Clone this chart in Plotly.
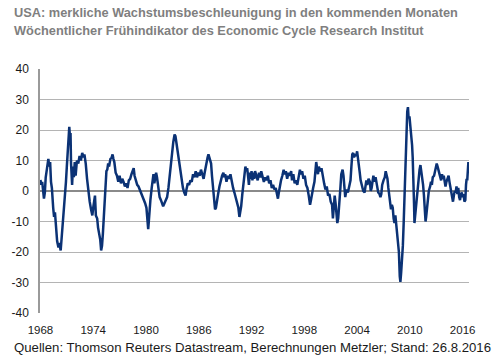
import plotly.graph_objects as go

# Decimal-year time points and indicator values (% growth rate)
years = [
    1968.00, 1968.10, 1968.20, 1968.30, 1968.40, 1968.50, 1968.60, 1968.75, 1968.90, 1969.00,
    1969.10, 1969.20, 1969.30, 1969.45, 1969.55, 1969.65, 1969.75, 1969.90, 1970.05, 1970.15,
    1970.30, 1970.40, 1970.55, 1970.65, 1970.80, 1970.90, 1971.00, 1971.10, 1971.20, 1971.28,
    1971.36, 1971.42, 1971.48, 1971.52, 1971.60, 1971.70, 1971.80, 1971.90, 1972.00, 1972.15,
    1972.30, 1972.45, 1972.60, 1972.75, 1972.90, 1973.00, 1973.15, 1973.30, 1973.45, 1973.60,
    1973.75, 1973.90, 1974.00, 1974.10, 1974.20, 1974.30, 1974.45, 1974.55, 1974.70, 1974.80,
    1974.90, 1975.00, 1975.10, 1975.20, 1975.30, 1975.40, 1975.50, 1975.60, 1975.70, 1975.80,
    1975.95, 1976.10, 1976.20, 1976.30, 1976.40, 1976.55, 1976.70, 1976.85, 1977.00, 1977.15,
    1977.30, 1977.45, 1977.60, 1977.75, 1977.90, 1978.05, 1978.20, 1978.35, 1978.50, 1978.60,
    1978.70, 1978.85, 1979.00, 1979.15, 1979.30, 1979.45, 1979.60, 1979.75, 1979.90, 1980.05,
    1980.15, 1980.25, 1980.32, 1980.40, 1980.50, 1980.65, 1980.75, 1980.85, 1980.95, 1981.05,
    1981.15, 1981.25, 1981.40, 1981.55, 1981.70, 1981.85, 1981.95, 1982.10, 1982.25, 1982.40,
    1982.55, 1982.65, 1982.80, 1982.95, 1983.10, 1983.25, 1983.35, 1983.45, 1983.60, 1983.75,
    1983.90, 1984.05, 1984.20, 1984.35, 1984.50, 1984.60, 1984.75, 1984.90, 1985.05, 1985.20,
    1985.35, 1985.50, 1985.65, 1985.80, 1985.95, 1986.10, 1986.25, 1986.40, 1986.55, 1986.70,
    1986.85, 1987.00, 1987.10, 1987.25, 1987.40, 1987.50, 1987.62, 1987.75, 1987.85, 1987.95,
    1988.05, 1988.20, 1988.35, 1988.50, 1988.65, 1988.80, 1988.90, 1989.00, 1989.15, 1989.30,
    1989.45, 1989.60, 1989.75, 1989.90, 1990.05, 1990.20, 1990.35, 1990.50, 1990.62, 1990.72,
    1990.82, 1990.95, 1991.10, 1991.20, 1991.30, 1991.40, 1991.50, 1991.60, 1991.70, 1991.80,
    1991.90, 1992.00, 1992.10, 1992.20, 1992.30, 1992.40, 1992.55, 1992.70, 1992.85, 1993.00,
    1993.10, 1993.25, 1993.40, 1993.55, 1993.70, 1993.85, 1994.00, 1994.15, 1994.30, 1994.45,
    1994.60, 1994.75, 1994.90, 1995.00, 1995.10, 1995.20, 1995.35, 1995.50, 1995.65, 1995.75,
    1995.90, 1996.05, 1996.20, 1996.35, 1996.50, 1996.60, 1996.75, 1996.90, 1997.05, 1997.20,
    1997.35, 1997.50, 1997.60, 1997.75, 1997.90, 1998.05, 1998.20, 1998.35, 1998.50, 1998.65,
    1998.75, 1998.85, 1999.00, 1999.15, 1999.25, 1999.35, 1999.45, 1999.55, 1999.65, 1999.80,
    1999.95, 2000.10, 2000.25, 2000.40, 2000.55, 2000.70, 2000.85, 2001.00, 2001.15, 2001.25,
    2001.35, 2001.45, 2001.55, 2001.65, 2001.75, 2001.85, 2001.95, 2002.10, 2002.20, 2002.35,
    2002.45, 2002.55, 2002.65, 2002.80, 2002.95, 2003.10, 2003.25, 2003.35, 2003.45, 2003.55,
    2003.65, 2003.75, 2003.90, 2004.00, 2004.10, 2004.20, 2004.30, 2004.40, 2004.55, 2004.70,
    2004.85, 2004.95, 2005.05, 2005.15, 2005.30, 2005.45, 2005.55, 2005.65, 2005.75, 2005.85,
    2006.00, 2006.10, 2006.25, 2006.40, 2006.55, 2006.65, 2006.75, 2006.85, 2007.00, 2007.15,
    2007.25, 2007.35, 2007.45, 2007.55, 2007.65, 2007.75, 2007.85, 2007.95, 2008.05, 2008.15,
    2008.25, 2008.35, 2008.45, 2008.55, 2008.65, 2008.75, 2008.85, 2008.92, 2009.00, 2009.10,
    2009.20, 2009.30, 2009.38, 2009.45, 2009.55, 2009.62, 2009.70, 2009.78, 2009.85, 2009.95,
    2010.05, 2010.15, 2010.25, 2010.32, 2010.40, 2010.47, 2010.52, 2010.60, 2010.70, 2010.80,
    2010.90, 2011.00, 2011.10, 2011.20, 2011.30, 2011.40, 2011.50, 2011.60, 2011.70, 2011.78,
    2011.85, 2011.95, 2012.05, 2012.15, 2012.30, 2012.40, 2012.50, 2012.60, 2012.75, 2012.85,
    2012.95, 2013.05, 2013.15, 2013.30, 2013.45, 2013.55, 2013.65, 2013.75, 2013.85, 2013.95,
    2014.05, 2014.15, 2014.30, 2014.40, 2014.50, 2014.60, 2014.70, 2014.80, 2014.90, 2015.00,
    2015.10, 2015.20, 2015.30, 2015.40, 2015.50, 2015.60, 2015.70, 2015.80, 2015.90, 2016.00,
    2016.10, 2016.20, 2016.30, 2016.38, 2016.45, 2016.52, 2016.60, 2016.65,
]

values = [
    3.6, 2.0, 3.0, 0.5, -2.5, -0.5, 4.5, 7.5, 10.5, 8.0,
    9.5, 3.0, 1.0, -5.5, -8.5, -7.0, -12.0, -16.5, -18.5, -17.0,
    -19.5, -16.0, -10.0, -8.0, -1.0, 3.0, 8.0, 13.0, 17.0, 21.0,
    17.5, 19.0, 9.0, 3.0, 2.0, 8.0, 4.5, 9.5, 5.0, 10.0,
    9.0, 11.5, 10.0, 12.5, 11.0, 12.0, 9.0, 4.0, -1.0, -3.5,
    -6.0, -8.0, -5.5, -3.0, -1.5, -8.0, -9.0, -12.0, -14.0, -16.0,
    -19.5, -18.0, -14.0, -9.0, -2.0, 2.0, 6.5, 7.0, 9.0, 8.0,
    10.5, 11.0, 12.0, 10.5, 9.5, 6.0, 5.0, 3.0, 5.0, 2.5,
    4.0, 3.0, 1.5, 2.5, 1.0, 3.5, 4.0, 5.5, 7.0, 7.5,
    5.0, 3.0, 2.0, 1.5, 0.5, -0.5, -1.5, -2.5, -4.0, -5.5,
    -8.5, -12.5, -10.0, -5.0, -3.0, 1.0, 4.5, 5.5, 2.5, 5.0,
    6.0, 4.5, 0.5, -2.0, -3.0, -4.5, -5.0, -4.0, -3.0, -2.0,
    1.0, 4.0, 8.0, 13.0, 16.0, 18.5, 18.0, 16.0, 13.0, 9.0,
    6.0, 3.5, 1.0, -0.5, -1.5, 0.5, 2.5, 2.0, 3.5, 3.0,
    5.5, 4.5, 6.5, 4.5, 6.0, 5.0, 7.0, 5.5, 4.0, 6.5,
    9.5, 11.0, 12.0, 10.0, 9.0, 5.0, 1.5, -4.0, -6.0, -5.5,
    -3.0, -1.0, 1.5, 3.5, 5.0, 6.0, 4.5, 5.5, 3.0, 5.0,
    4.0, 5.5, 3.0, 1.0, -0.5, -2.0, -3.5, -5.5, -8.5, -7.0,
    -5.0, -1.0, 3.0, 6.0, 8.0, 6.5, 7.5, 5.0, 2.0, 6.0,
    4.0, 6.5, 3.5, 6.0, 4.0, 6.5, 5.0, 3.5, 6.0, 4.5,
    6.5, 5.0, 3.0, 4.5, 3.5, 5.0, 2.5, 3.5, 1.0, 2.0,
    0.5, 1.0, -1.5, -2.5, -0.5, 1.5, 3.5, 5.0, 7.0, 5.5,
    6.5, 4.0, 6.0, 5.0, 6.5, 3.5, 5.5, 2.5, 3.5, 2.0,
    5.0, 7.0, 5.5, 6.5, 4.0, 5.0, 2.0, 1.0, -1.5, -4.5,
    -3.0, -1.0, 1.0, 3.0, 7.0, 9.5, 7.5, 5.5, 8.0, 6.5,
    7.5, 4.0, 2.5, 0.5, 1.5, -1.5, -1.0, -3.5, -4.5, -9.0,
    -5.0, -1.5, -4.0, -8.0, -10.5, -9.0, -3.5, 1.0, 5.5, 7.0,
    5.0, -1.0, -2.0, 0.5, -0.5, 1.5, 3.5, 8.0, 12.0, 12.5,
    11.0, 12.0, 11.5, 13.0, 11.0, 9.5, 6.0, 3.5, 1.5, 0.0,
    -0.5, 1.5, 3.5, 2.0, 4.0, 3.0, 0.0, 1.0, 3.5, 5.0,
    3.0, 4.5, 2.0, -0.5, -1.0, -2.0, -1.0, 2.0, 3.5, 4.5,
    6.5, 5.0, 4.0, 1.0, -2.0, -4.0, -6.0, -4.5, -5.5, -9.0,
    -10.5, -8.0, -11.0, -13.5, -15.5, -20.0, -28.0, -29.8, -27.0, -23.5,
    -18.0, -10.0, -2.0, 8.0, 17.0, 23.5, 26.0, 27.5, 24.0, 24.5,
    22.0, 19.5, 15.0, 11.0, 5.0, -4.0, -10.5, -8.0, -5.0, -1.0,
    2.0, 4.0, 7.0, 8.5, 6.5, 4.5, 2.0, -1.5, -5.5, -10.0,
    -8.5, -5.0, -3.0, 0.0, 1.5, 3.0, 2.0, 4.5, 5.0, 6.5,
    7.5, 9.0, 8.0, 6.5, 5.0, 3.5, 5.5, 4.0, 5.0, 2.5,
    1.5, 3.0, 4.5, 5.0, 3.0, 1.0, -0.5, -2.5, -3.5, -1.5,
    0.0, -0.5, 1.5, -1.0, 1.0, -2.0, -3.0, -1.0, -0.5, -2.0,
    -1.0, -3.5, -3.0, 2.0, 4.0, 3.5, 7.0, 9.5,
]

x_ticks = [1968, 1974, 1980, 1986, 1992, 1998, 2004, 2010, 2016]
x_ticklabels = ["1968", "1974", "1980", "1986", "1992", "1998", "2004", "2010", "2016"]
y_ticks = [40, 30, 20, 10, 0, -10, -20, -30, -40]
y_ticklabels = ["40", "30", "20", "10", "0", "-10", "-20", "-30", "-40"]

title_line1 = "USA: merkliche Wachstumsbeschleunigung in den kommenden Monaten"
title_line2 = "Wöchentlicher Frühindikator des Economic Cycle Research Institut"
source_text = "Quellen: Thomson Reuters Datastream, Berechnungen Metzler; Stand: 26.8.2016"

W, H = 500, 356
L, R, T, B = 31, 31, 69, 43
pw = W - L - R
ph = H - T - B

fig = go.Figure()
fig.add_trace(go.Scatter(
    x=years, y=values, mode="lines",
    line=dict(color="#0b3275", width=2.5),
    hoverinfo="skip", showlegend=False,
))

fig.update_layout(
    width=W, height=H,
    margin=dict(l=L, r=R, t=T, b=B, pad=0),
    paper_bgcolor="white", plot_bgcolor="white",
    font=dict(family="Liberation Sans, Arial, sans-serif", size=12, color="#1a1a1a"),
    xaxis=dict(
        range=[1967.95, 2016.72],
        tickmode="array", tickvals=x_ticks, ticktext=x_ticklabels,
        showgrid=False, zeroline=False,
        showline=False,
        ticks="outside", ticklen=6, tickcolor="rgba(0,0,0,0)",
        tickfont=dict(size=11.5, color="#1a1a1a"),
    ),
    yaxis=dict(
        range=[-40, 40],
        tickmode="array", tickvals=y_ticks, ticktext=y_ticklabels,
        showgrid=True, gridcolor="#b4b4b4", gridwidth=1,
        zeroline=True, zerolinecolor="#8a8a8a", zerolinewidth=1.5,
        showline=True, linecolor="#9a9a9a", linewidth=1.5,
        ticks="outside", ticklen=7, tickcolor="rgba(0,0,0,0)",
        tickfont=dict(size=12, color="#1a1a1a"),
    ),
)

def px_x(px):
    return (px - L) / pw

def px_y(py):
    return (H - B - py) / ph

fig.add_annotation(text="<b>" + title_line1 + "</b>", xref="paper", yref="paper",
                   x=px_x(2), y=px_y(12), xanchor="left", yanchor="middle",
                   showarrow=False, font=dict(size=12.8, color="#7f7f7f"))
fig.add_annotation(text="<b>" + title_line2 + "</b>", xref="paper", yref="paper",
                   x=px_x(2), y=px_y(30), xanchor="left", yanchor="middle",
                   showarrow=False, font=dict(size=12.8, color="#7f7f7f"))
fig.add_annotation(text=source_text, xref="paper", yref="paper",
                   x=px_x(2), y=px_y(347), xanchor="left", yanchor="middle",
                   showarrow=False, font=dict(size=13.2, color="#1a1a1a"))

fig.write_html("out.html", config={"displayModeBar": False},
               post_script="document.body.style.margin='0';document.body.style.overflow='hidden';")
